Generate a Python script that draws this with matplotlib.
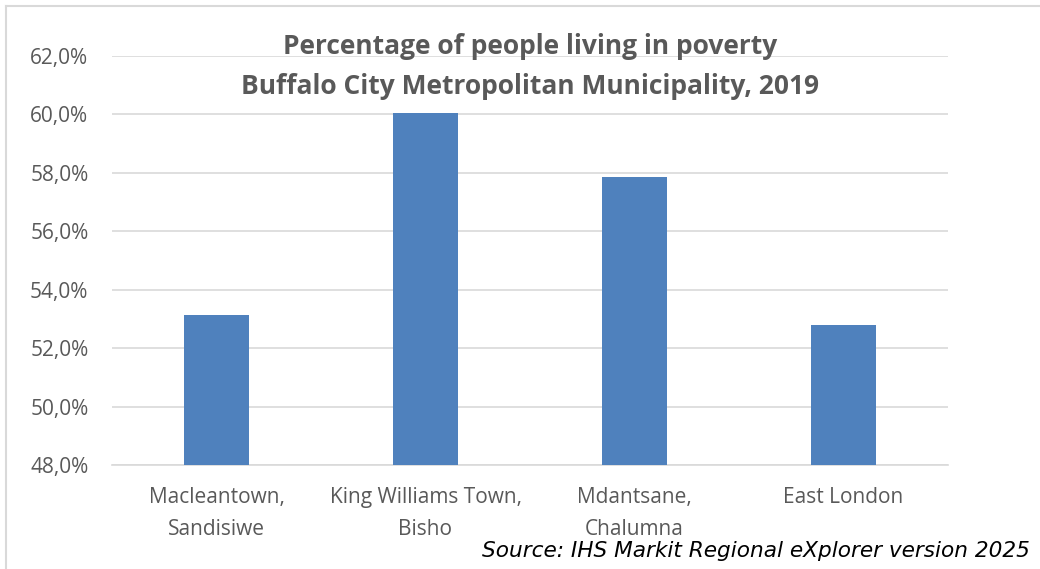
import matplotlib.pyplot as plt
from matplotlib.ticker import FuncFormatter
from matplotlib.lines import Line2D

areas = ["Macleantown,\nSandisiwe", "King Williams Town,\nBisho",
         "Mdantsane,\nChalumna", "East London"]
poverty = [53.15, 60.05, 57.85, 52.8]  # percent
yticks = [48, 50, 52, 54, 56, 58, 60, 62]

grey = "#595959"
blue = "#4F81BD"

fig = plt.figure(figsize=(10.4, 5.69), dpi=100)
ax = fig.add_axes([112 / 1040, 1 - 465 / 569, 836 / 1040, 409 / 569])

x = range(len(areas))
ax.bar(x, poverty, width=0.31, color=blue, zorder=3)
ax.set_xlim(-0.5, len(areas) - 0.5)
ax.set_ylim(48, 62)
ax.set_yticks(yticks)
ax.yaxis.set_major_formatter(FuncFormatter(lambda v, p: f"{v:.1f}%".replace(".", ",")))
ax.set_xticks(list(x))
ax.set_xticklabels(areas, linespacing=1.65)
ax.grid(axis="y", color="#d9d9d9", linewidth=1.2, zorder=0)
for s in ["top", "right", "left"]:
    ax.spines[s].set_visible(False)
ax.spines["bottom"].set_color("#d9d9d9")
ax.spines["bottom"].set_linewidth(1.2)
ax.tick_params(length=0, colors=grey, labelsize=15)
ax.tick_params(axis="x", pad=16)
ax.tick_params(axis="y", pad=17)
for lab in ax.get_xticklabels() + ax.get_yticklabels():
    lab.set_fontfamily("Open Sans")
    lab.set_color(grey)

fig.text(530 / 1040, 1 - 47 / 569, "Percentage of people living in poverty",
         ha="center", va="center", fontsize=19, fontweight="bold",
         color=grey, family="Open Sans")
fig.text(530 / 1040, 1 - 86 / 569, "Buffalo City Metropolitan Municipality, 2019",
         ha="center", va="center", fontsize=19, fontweight="bold",
         color=grey, family="Open Sans")
fig.text(1030 / 1040, 1 - 551 / 569, "Source: IHS Markit Regional eXplorer version 2025",
         ha="right", va="center", fontsize=15.6, style="italic", color="black")

# chart border (top and left edges visible)
fig.add_artist(Line2D([6 / 1040, 1], [1 - 6 / 569, 1 - 6 / 569],
                      transform=fig.transFigure, color="#d9d9d9", lw=1.5))
fig.add_artist(Line2D([6 / 1040, 6 / 1040], [0, 1 - 6 / 569],
                      transform=fig.transFigure, color="#d9d9d9", lw=1.5))

fig.savefig("out.png")
